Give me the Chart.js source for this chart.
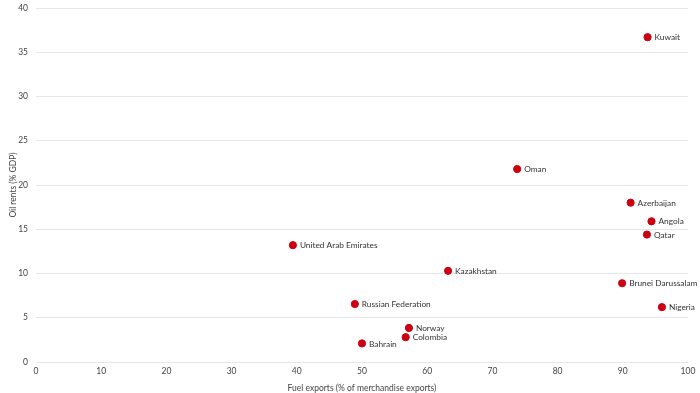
<!DOCTYPE html>
<html>
<head>
<meta charset="utf-8">
<script src="https://cdn.jsdelivr.net/npm/chart.js@4/dist/chart.umd.min.js"></script>
<style>
  html, body { margin: 0; padding: 0; background: #fff; }
  #wrap { width: 700px; height: 393px; }
</style>
</head>
<body>
<div id="wrap"><canvas id="chart"></canvas></div>
<script>
// countries and values
const countries = ["Kuwait", "Oman", "Azerbaijan", "Angola", "Qatar", "United Arab Emirates",
  "Kazakhstan", "Brunei Darussalam", "Nigeria", "Russian Federation", "Norway", "Colombia", "Bahrain"];
const fuelExports = [93.8, 73.8, 91.2, 94.4, 93.7, 39.4, 63.2, 89.9, 96.0, 48.9, 57.2, 56.7, 50.0];
const oilRents = [36.7, 21.8, 18.0, 15.9, 14.4, 13.2, 10.3, 8.9, 6.2, 6.55, 3.85, 2.8, 2.1];

const FONT = "'Liberation Sans Narrow', Lato, sans-serif";

// draw the country name to the right of each dot
const pointLabels = {
  id: "pointLabels",
  afterDatasetsDraw(chart) {
    const ctx = chart.ctx;
    const meta = chart.getDatasetMeta(0);
    ctx.save();
    ctx.font = "8.3px " + FONT;
    ctx.fillStyle = "#333";
    ctx.textAlign = "left";
    ctx.textBaseline = "middle";
    meta.data.forEach((pt, i) => {
      ctx.fillText(countries[i], pt.x + 7, pt.y + 0.5);
    });
    ctx.restore();
  }
};

new Chart(document.getElementById("chart"), {
  type: "scatter",
  data: {
    datasets: [{
      data: fuelExports.map((x, i) => ({ x, y: oilRents[i] })),
      backgroundColor: "#cc0011",
      borderColor: "#cc0011",
      pointRadius: 3.6,
      pointHoverRadius: 3.6
    }]
  },
  options: {
    responsive: true,
    maintainAspectRatio: false,
    animation: false,
    layout: { padding: { top: 8, right: 12, left: 8, bottom: 0 } },
    plugins: { legend: { display: false }, tooltip: { enabled: false } },
    scales: {
      x: {
        type: "linear",
        min: 0, max: 100,
        ticks: { stepSize: 10, color: "#444", font: { size: 8.5, family: FONT }, padding: 4 },
        grid: { display: false, drawTicks: false },
        border: { display: false },
        title: { display: true, text: "Fuel exports (% of merchandise exports)", color: "#444",
          font: { size: 8.5, family: FONT }, padding: { top: 2, bottom: 0 } },
        afterFit(axis) { axis.height = 31; }
      },
      y: {
        min: 0, max: 40,
        ticks: { stepSize: 5, color: "#444", font: { size: 8.5, family: FONT }, padding: 8 },
        grid: { color: "#e4e8ea", lineWidth: 1, drawTicks: false },
        border: { display: false },
        title: { display: true, text: "Oil rents (% GDP)", color: "#444",
          font: { size: 8.5, family: FONT }, padding: 0 },
        afterFit(axis) { axis.width = 28; axis.paddingTop = 0; axis.paddingBottom = 0; }
      }
    }
  },
  plugins: [pointLabels]
});
</script>
</body>
</html>
